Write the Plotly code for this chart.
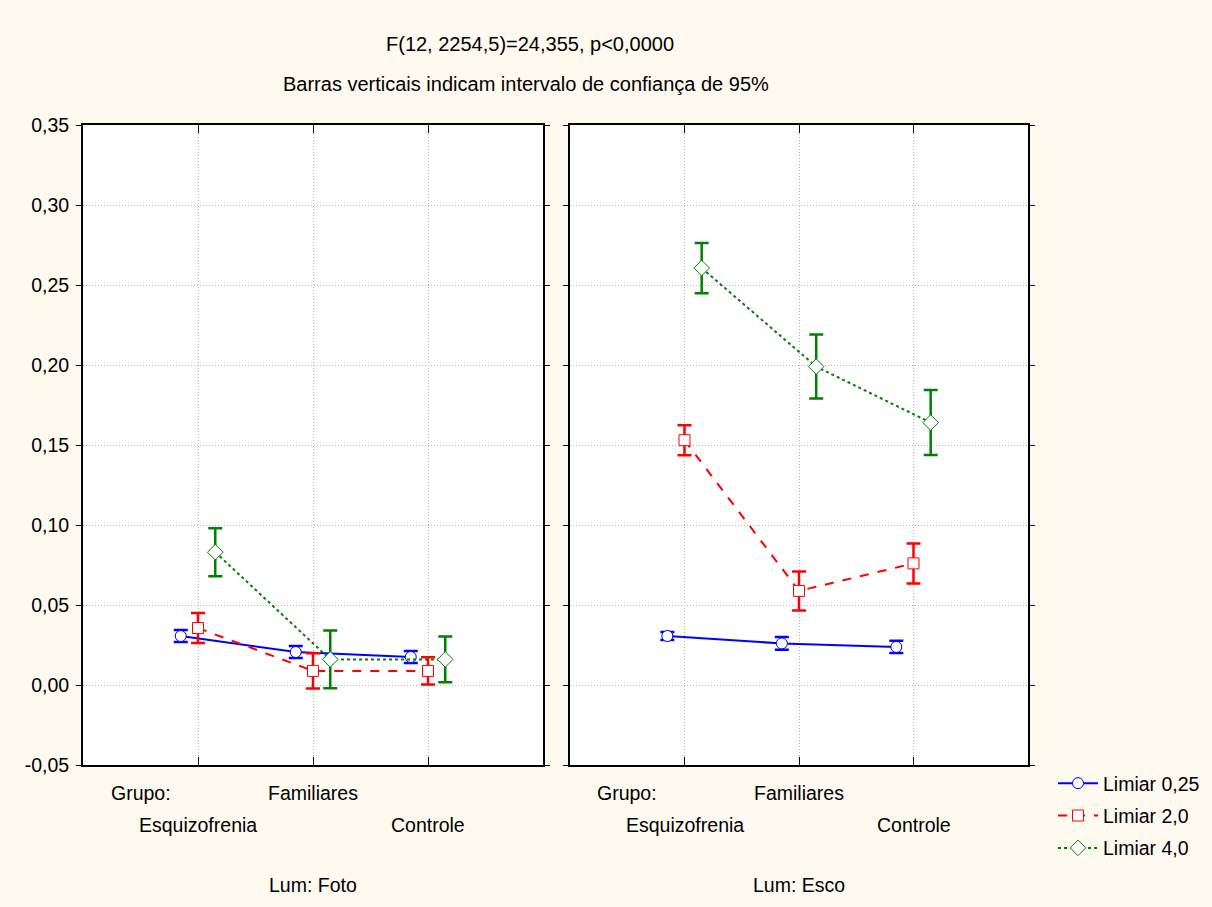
import plotly.graph_objects as go

groups = ["Esquizofrenia", "Familiares", "Controle"]
panels = ["Lum: Foto", "Lum: Esco"]
series = ["Limiar 0,25", "Limiar 2,0", "Limiar 4,0"]

# means and 95% CI half-widths, panel Foto
foto_025 = [0.0306, 0.0206, 0.0175]
foto_025_ci = [0.0037, 0.0037, 0.0037]
foto_20 = [0.0356, 0.0088, 0.0088]
foto_20_ci = [0.0094, 0.0110, 0.0085]
foto_40 = [0.0830, 0.0160, 0.0160]
foto_40_ci = [0.0150, 0.0180, 0.0143]

# panel Esco
esco_025 = [0.0306, 0.0260, 0.0238]
esco_025_ci = [0.0025, 0.0040, 0.0038]
esco_20 = [0.1530, 0.0588, 0.0760]
esco_20_ci = [0.0094, 0.0122, 0.0125]
esco_40 = [0.2606, 0.1990, 0.1640]
esco_40_ci = [0.0157, 0.0200, 0.0203]

ytick_vals = [-0.05, 0.0, 0.05, 0.10, 0.15, 0.20, 0.25, 0.30, 0.35]
ytick_text = ["-0,05", "0,00", "0,05", "0,10", "0,15", "0,20", "0,25", "0,30", "0,35"]

colors = ["#0000FF", "#FF0000", "#008000"]
dashes = ["solid", "dash", "dot"]
symbols = ["circle", "square", "diamond"]
offsets = [-0.15, 0.0, 0.15]

FONT = "Liberation Sans, Arial, sans-serif"
FS = 19.5

fig = go.Figure()

panel_data = [
    [(foto_025, foto_025_ci), (foto_20, foto_20_ci), (foto_40, foto_40_ci)],
    [(esco_025, esco_025_ci), (esco_20, esco_20_ci), (esco_40, esco_40_ci)],
]

for p, pdata in enumerate(panel_data):
    xa = "x" if p == 0 else "x2"
    ya = "y" if p == 0 else "y2"
    for s, (vals, ci) in enumerate(pdata):
        xs = [i + 1 + offsets[s] for i in range(len(groups))]
        fig.add_trace(go.Scatter(
            x=xs, y=vals, xaxis=xa, yaxis=ya,
            mode="lines+markers",
            name=series[s],
            showlegend=(p == 0),
            legendgroup=series[s],
            line=dict(color=colors[s], width=2, dash=dashes[s]),
            marker=dict(symbol=symbols[s], size=11 if s != 2 else 12, color="white",
                        line=dict(color=colors[s], width=1)),
            error_y=dict(type="data", array=ci, visible=True, color=colors[s],
                         thickness=2.5, width=7),
        ))

GRID = dict(showgrid=True, gridcolor="#b8b8b8", griddash="1px,2px", gridwidth=1)
common_x = dict(range=[0, 4], tickvals=[1, 2, 3], showticklabels=False, **GRID,
                showline=True, linecolor="black", linewidth=2, mirror="ticks",
                ticks="inside", ticklen=8, tickcolor="black", zeroline=False,
                automargin=False)
common_y = dict(range=[-0.05, 0.35], tickvals=ytick_vals, ticktext=ytick_text, **GRID,
                showline=True, linecolor="black", linewidth=2, mirror="ticks",
                ticks="outside", ticklen=5, tickcolor="black", zeroline=False,
                ticklabelstandoff=3, automargin=False,
                tickfont=dict(family=FONT, size=FS, color="black"))

y_dom = [1 - 765 / 907, 1 - 125 / 907]
fig.update_layout(
    xaxis=dict(domain=[83 / 1212, 543 / 1212], **common_x),
    xaxis2=dict(domain=[570 / 1212, 1028 / 1212], anchor="y2", **common_x),
    yaxis=dict(domain=y_dom, anchor="x", **common_y),
    yaxis2=dict(domain=y_dom, anchor="x2", showticklabels=False,
                **{k: v for k, v in common_y.items() if k not in ("tickfont",)}),
)

annotations = []
def ann(text, xref, x, ypx, size=FS):
    annotations.append(dict(text=text, xref=xref, x=x, yref="paper", y=1 - ypx / 907,
                            showarrow=False, xanchor="center", yanchor="middle",
                            font=dict(family=FONT, size=size, color="black")))

ann("F(12, 2254,5)=24,355, p<0,0000", "paper", 530 / 1212, 44, 20)
ann("Barras verticais indicam intervalo de confiança de 95%", "paper", 526 / 1212, 84, 20)
for p, xr in enumerate(["x", "x2"]):
    ann("Grupo:", xr, 0.5, 793)
    ann(groups[1], xr, 2, 793)
    ann(groups[0], xr, 1, 825)
    ann(groups[2], xr, 3, 825)
    ann(panels[p], xr, 2, 885)

fig.update_layout(
    width=1212, height=907,
    margin=dict(l=0, r=0, t=0, b=0, autoexpand=False),
    paper_bgcolor="#FEFAF0",
    plot_bgcolor="white",
    annotations=annotations,
    font=dict(family=FONT, size=FS, color="black"),
    legend=dict(x=1053 / 1212, y=1 - 764 / 907, xanchor="left", yanchor="top",
                bgcolor="rgba(0,0,0,0)", font=dict(family=FONT, size=FS, color="black"),
                itemwidth=40, tracegroupgap=4),
)

fig.write_html("out.html", config={"displayModeBar": False},
               post_script="document.body.style.margin='0';document.body.style.overflow='hidden';")
